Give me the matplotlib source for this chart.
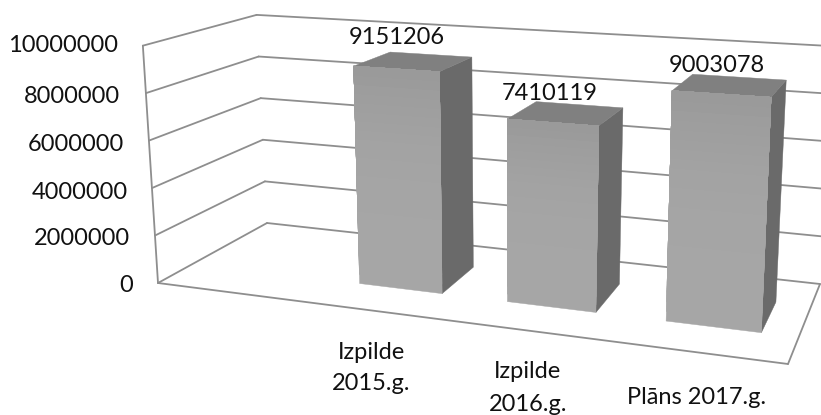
import numpy as np
import matplotlib
matplotlib.use("Agg")
import matplotlib.pyplot as plt

# ---- data ----
categories = ["Izpilde\n2015.g.", "Izpilde\n2016.g.", "Plāns 2017.g."]
values = [9151206, 7410119, 9003078]
value_labels = ["9151206", "7410119", "9003078"]
y_ticks = [0, 2000000, 4000000, 6000000, 8000000, 10000000]
y_max = 10000000

# ---- layout: perspective frame of the chart, in figure pixels ----
FLOOR = [(158, 283), (788, 364), (820, 284), (267, 223)]   # front-left, front-right, back-right, back-left
LEAN_X0, LEAN_K = 510.0, 0.043     # vertical lines converge towards a vanishing point
HEIGHT_A, HEIGHT_B = 99.5, 0.487   # full axis height in px as a function of floor y
BAR_FIRST = 0.303
BAR_STEP = 0.2505
BAR_W = 0.142
D0, D1 = 0.30, 0.69


def homography(q):
    A = []
    b = []
    for (u, v), (x, y) in zip([(0, 0), (1, 0), (1, 1), (0, 1)], q):
        A.append([u, v, 1, 0, 0, 0, -u * x, -v * x]); b.append(x)
        A.append([0, 0, 0, u, v, 1, -u * y, -v * y]); b.append(y)
    return np.append(np.linalg.solve(np.array(A, float), np.array(b, float)), 1).reshape(3, 3)


HF = homography(FLOOR)


def proj(u, d, val):
    """(category position, depth, value) -> figure pixel."""
    p = HF @ np.array([u, d, 1.0])
    fx, fy = p[:2] / p[2]
    t = val / y_max
    return fx + (fx - LEAN_X0) * LEAN_K * t, fy - t * (HEIGHT_A + HEIGHT_B * fy)


fig = plt.figure(figsize=(8.21, 4.15), dpi=100)
ax = fig.add_axes([0, 0, 1, 1])
ax.set_xlim(0, 821)
ax.set_ylim(415, 0)
ax.axis("off")
plt.rcParams["font.family"] = ["Lato", "DejaVu Sans"]

GRID = "#8e8e8e"
LW = 1.3


def line(a, b):
    ax.plot(*zip(a, b), color=GRID, lw=LW, solid_capstyle="round", zorder=1)


for t in y_ticks:
    line(proj(0, 0, t), proj(0, 1, t))
    line(proj(0, 1, t), proj(1, 1, t))
line(proj(0, 0, 0), proj(0, 0, y_max))
line(proj(0, 0, 0), proj(1, 0, 0))
line(proj(1, 0, 0), proj(1, 1, 0))


def face(pts, color):
    ax.fill(*zip(*pts), color=color, lw=0.3, zorder=3)


for i, v in enumerate(values):
    u0 = BAR_FIRST + BAR_STEP * i
    u1 = u0 + BAR_W
    face([proj(u1, D0, 0), proj(u1, D1, 0), proj(u1, D1, v), proj(u1, D0, v)], "#6a6a6a")
    face([proj(u0, D0, v), proj(u1, D0, v), proj(u1, D1, v), proj(u0, D1, v)], "#808080")
    # front, with a soft vertical gradient painted bottom-up so no seams show
    n = 24
    for k in range(n):
        a = v * k / n
        c = 0xa6 - (0xa6 - 0x9a) * (k / (n - 1)) ** 3
        col = (c / 255,) * 3
        face([proj(u0, D0, a), proj(u1, D0, a), proj(u1, D0, v), proj(u0, D0, v)], col)

FS = 17
TXT = "#111111"
for t, yp, xr in zip(y_ticks, [285, 238, 192, 144, 96, 45], [133, 130, 128, 124, 120, 118]):
    ax.text(xr, yp, str(t), ha="right", va="center", fontsize=FS, color=TXT)

for lab, xc, yc in zip(value_labels, [397, 550, 717], [38, 94, 65]):
    ax.text(xc, yc, lab, ha="center", va="center", fontsize=FS, color=TXT, zorder=5)

for lab, xc, yc, ls in zip(categories, [371, 528, 697], [368, 388, 397], [1.55, 1.7, 1.2]):
    ax.text(xc, yc, lab, ha="center", va="center", fontsize=17, color=TXT, linespacing=ls, zorder=5)

fig.savefig("out.png", dpi=100)
